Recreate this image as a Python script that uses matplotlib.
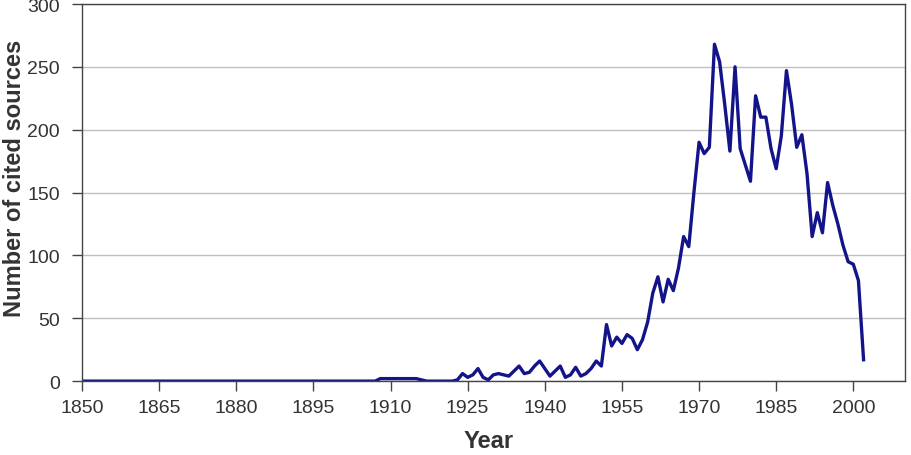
import matplotlib
matplotlib.use("Agg")
import matplotlib.pyplot as plt

plt.rcParams['font.family'] = ['Liberation Sans', 'DejaVu Sans']

# years 1850..2002, one value per year
years = list(range(1850, 2003))

early = [0] * (1908 - 1850)                  # 1850-1907
small = [2, 2, 2, 2, 2, 2, 2, 2, 1]          # 1908-1916
gap = [0, 0, 0, 0, 0, 0]                     # 1917-1922
counts_1923 = [1, 6, 3, 5, 10, 3, 1, 5, 6, 5,      # 1923-1932
               4, 8, 12, 6, 7, 12, 16, 10, 4, 8,   # 1933-1942
               12, 3, 5, 11, 4, 6, 10, 16, 12, 45, # 1943-1952
               28, 35, 30, 37, 34, 25, 33, 47, 70, 83,       # 1953-1962
               63, 81, 72, 90, 115, 107, 150, 190, 181, 186, # 1963-1972
               268, 254, 220, 183, 250, 185, 172, 159, 227, 210,  # 1973-1982
               210, 185, 169, 195, 247, 220, 186, 196, 165, 115,  # 1983-1992
               134, 118, 158, 140, 125, 108, 95, 93, 80, 17]      # 1993-2002
cited = early + small + gap + counts_1923

xticks = list(range(1850, 2001, 15))
yticks = list(range(0, 301, 50))

fig = plt.figure(figsize=(9.12, 4.56), dpi=100)
ax = fig.add_axes([0.090, 0.162, 0.902, 0.827])

ax.plot(years, cited, color='#14148a', linewidth=2.4, solid_joinstyle='round')

ax.set_xlim(1850, 2010)
ax.set_ylim(0, 300)
ax.set_xticks(xticks)
ax.set_yticks(yticks)
ax.yaxis.grid(True, color='#c0c0c0', linewidth=1.0)
ax.set_axisbelow(True)
ax.tick_params(axis='both', labelsize=14, length=7, width=1.0, color='#444444',
               labelcolor='#333333')
ax.tick_params(axis='x', pad=6)
ax.tick_params(axis='y', pad=9)
for s in ax.spines.values():
    s.set_color('#444444')
    s.set_linewidth(1.0)

ax.set_xlabel('Year', fontsize=17, fontweight='bold', color='#333333')
ax.set_ylabel('Number of cited sources', fontsize=17, fontweight='bold',
              color='#333333')
ax.xaxis.set_label_coords(0.4945, -0.128)
ax.yaxis.set_label_coords(-0.068, 0.54)

fig.savefig('out.png', dpi=100)
